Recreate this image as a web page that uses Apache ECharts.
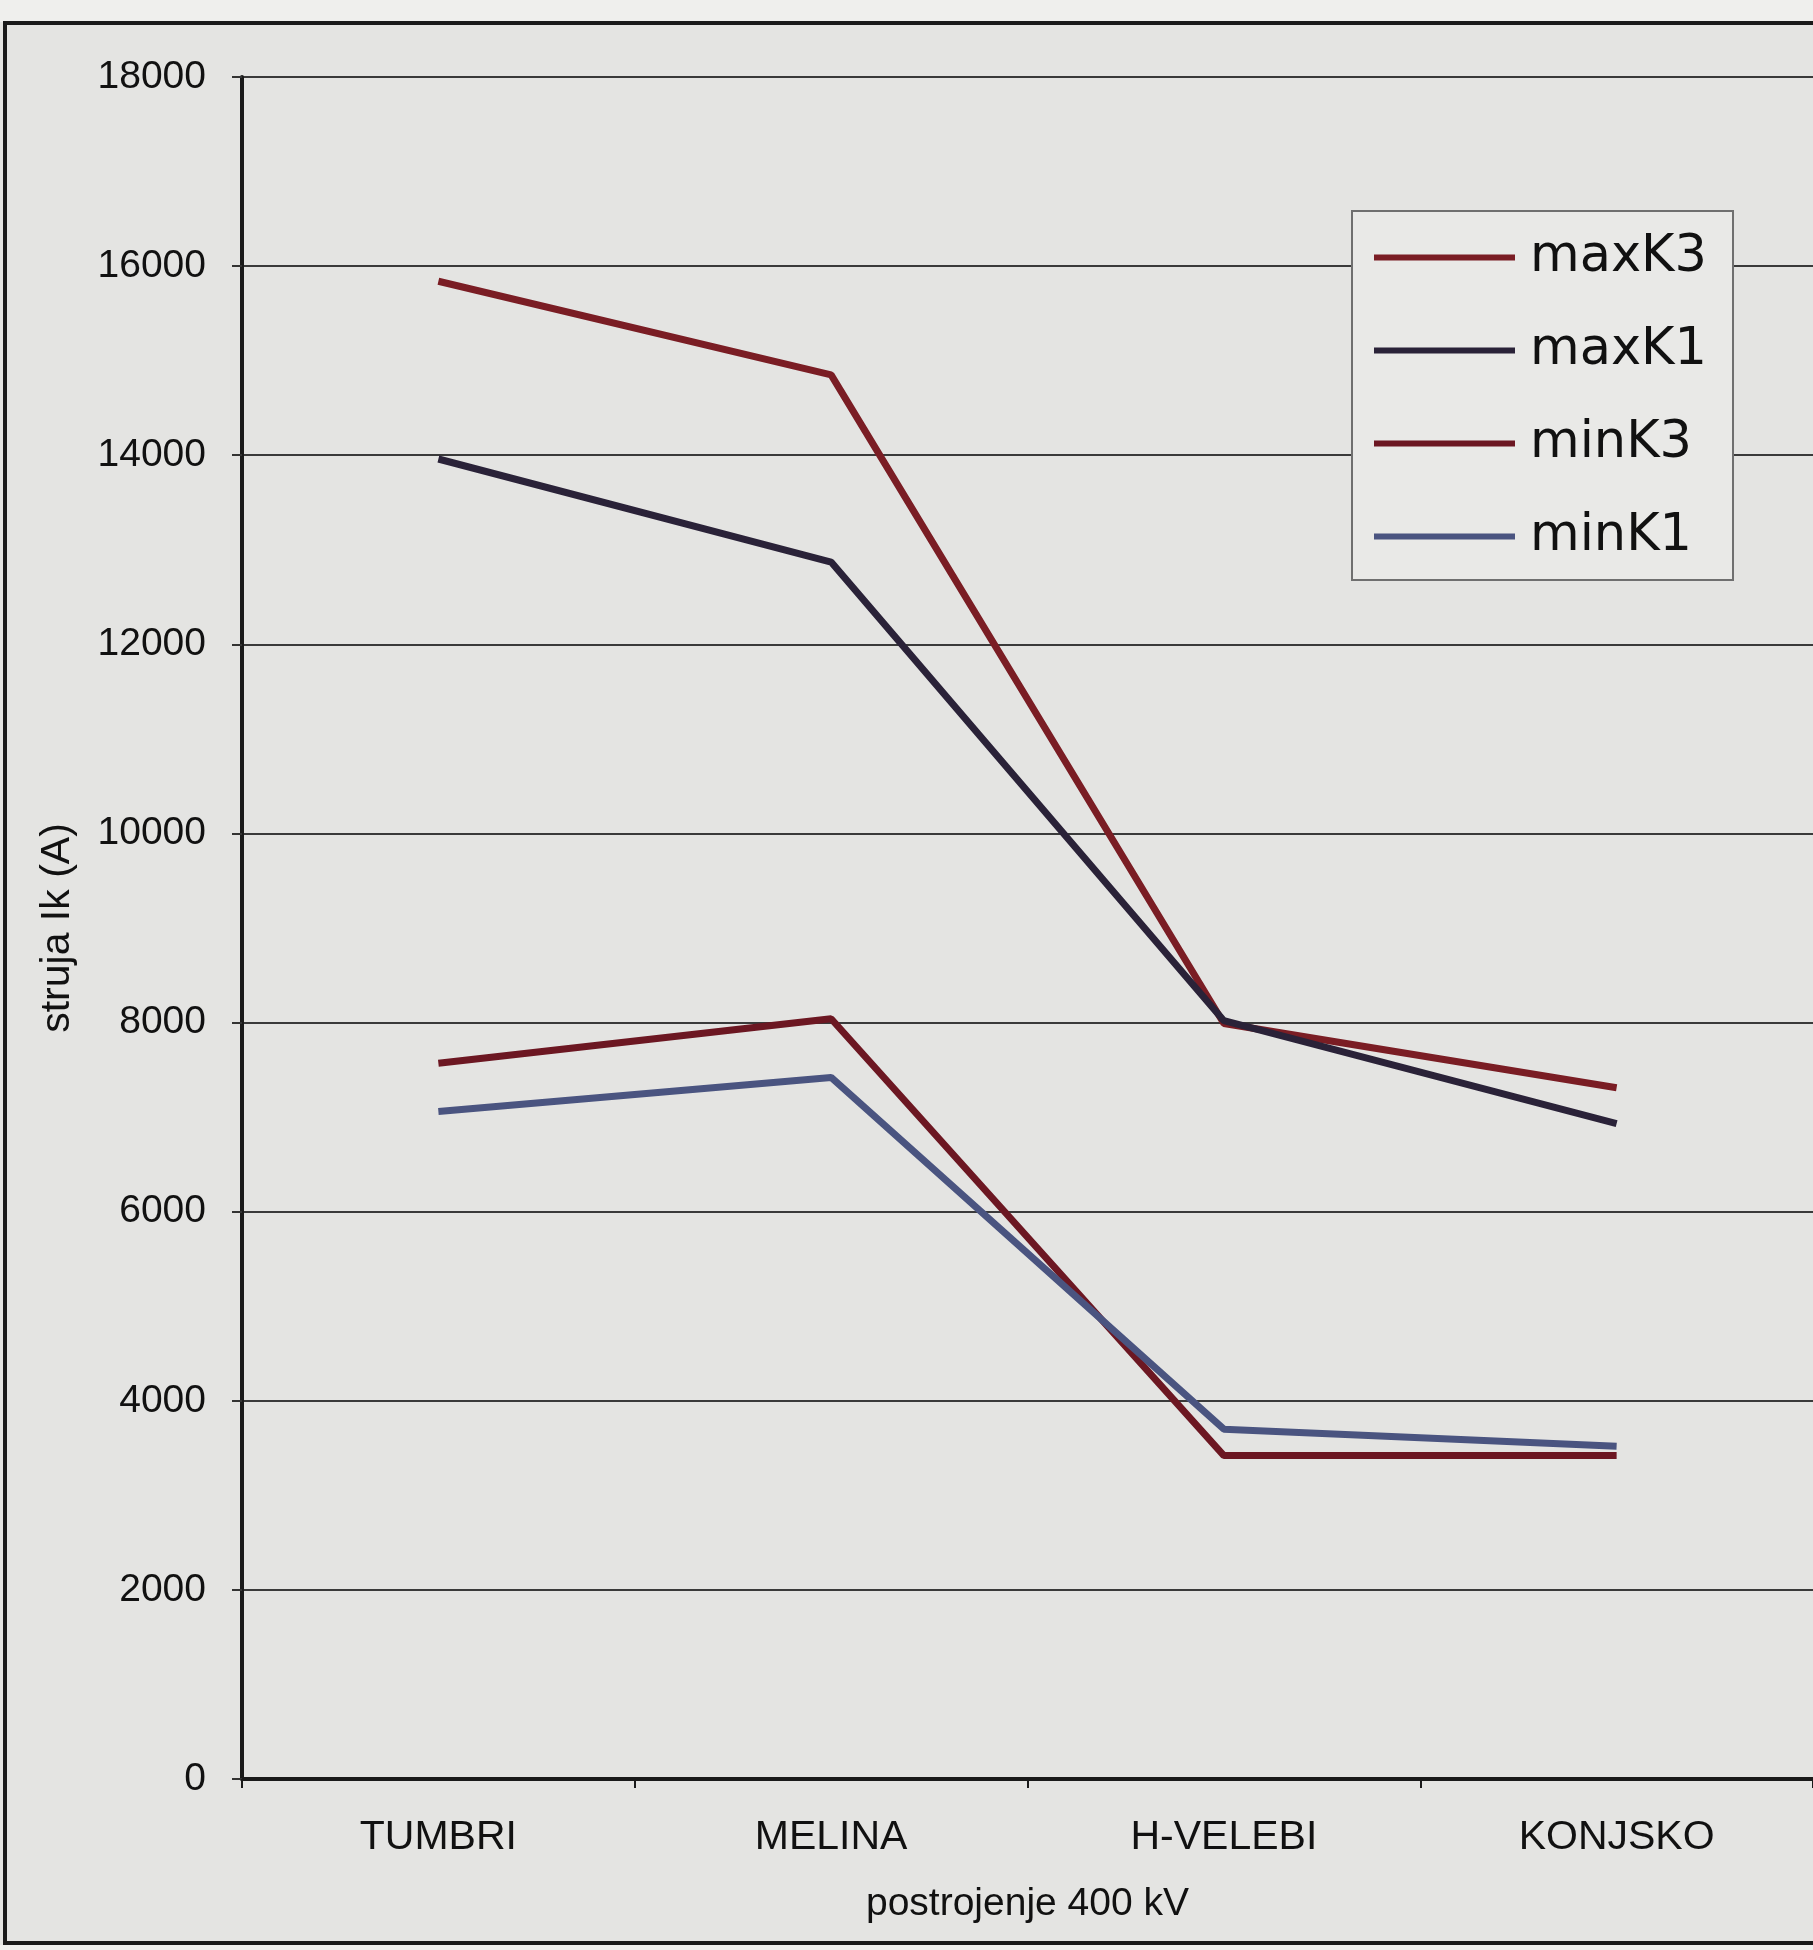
<!DOCTYPE html>
<html>
<head>
<meta charset="utf-8">
<title>Struja kratkog spoja – postrojenja 400 kV</title>
<script src="https://cdn.jsdelivr.net/npm/echarts@6/dist/echarts.min.js"></script>
<style>
  html, body { margin: 0; padding: 0; background: #efefed; }
  #chart { width: 1813px; height: 1950px; }
</style>
</head>
<body>
<div id="chart"></div>
<script>
// Short-circuit currents at the 400 kV substations
const categories = ['TUMBRI', 'MELINA', 'H-VELEBI', 'KONJSKO'];
const maxK3 = [15840, 14850, 7990, 7310];
const maxK1 = [13960, 12870, 8020, 6930];
const minK3 = [7570, 8040, 3420, 3420];
const minK1 = [7060, 7420, 3700, 3520];
const yTicks = [0, 2000, 4000, 6000, 8000, 10000, 12000, 14000, 16000, 18000];

const seriesDefs = [
  { name: 'maxK3', data: maxK3, color: '#7a1d24' },
  { name: 'maxK1', data: maxK1, color: '#2a2238' },
  { name: 'minK3', data: minK3, color: '#6c1722' },
  { name: 'minK1', data: minK1, color: '#4a5480' }
];

const chart = echarts.init(document.getElementById('chart'), null, { renderer: 'canvas' });

const font = 'Liberation Sans, Arial, sans-serif';

chart.setOption({
  backgroundColor: '#e4e4e2',
  animation: false,
  graphic: [
    // light margin strips and the outer frame of the figure
    {
      type: 'rect',
      shape: { x: 0, y: 0, width: 1813, height: 22 },
      style: { fill: '#efefed' },
      z: -10
    },
    {
      type: 'rect',
      shape: { x: 0, y: 1945, width: 1813, height: 5 },
      style: { fill: '#efefed' },
      z: -10
    },
    {
      type: 'rect',
      shape: { x: 5, y: 23, width: 1830, height: 1920 },
      style: { fill: 'none', stroke: '#1a1a1a', lineWidth: 4 },
      z: 10
    }
  ],
  grid: {
    left: 242,
    top: 77,
    width: 1574,
    height: 1702,
    containLabel: false
  },
  legend: {
    orient: 'vertical',
    left: 1352,
    top: 211,
    padding: [21, 26, 18, 22],
    backgroundColor: '#e9e9e7',
    borderColor: '#6f6f6f',
    borderWidth: 2,
    itemWidth: 141,
    itemHeight: 6,
    itemGap: 42,
    icon: 'rect',
    textStyle: {
      fontFamily: 'DejaVu Sans, sans-serif',
      fontSize: 51,
      lineHeight: 50,
      color: '#111',
      padding: [0, 0, 0, 10]
    },
    data: seriesDefs.map(s => s.name)
  },
  xAxis: {
    type: 'category',
    data: categories,
    boundaryGap: true,
    name: 'postrojenje 400 kV',
    nameLocation: 'middle',
    nameGap: 106,
    nameTextStyle: { fontFamily: font, fontSize: 39, color: '#111' },
    axisLine: { lineStyle: { color: '#1a1a1a', width: 4 } },
    axisTick: { show: true, length: 9, lineStyle: { color: '#1a1a1a', width: 2 } },
    axisLabel: { fontFamily: font, fontSize: 41, color: '#111', margin: 38 },
    splitLine: { show: false }
  },
  yAxis: {
    type: 'value',
    min: yTicks[0],
    max: yTicks[yTicks.length - 1],
    interval: yTicks[1] - yTicks[0],
    name: 'struja Ik (A)',
    nameLocation: 'middle',
    nameGap: 164,
    nameTextStyle: { fontFamily: font, fontSize: 41, color: '#111' },
    axisLine: { show: true, lineStyle: { color: '#1a1a1a', width: 4 } },
    axisTick: { show: true, inside: false, length: 10, lineStyle: { color: '#333', width: 2 } },
    axisLabel: {
      fontFamily: font, fontSize: 39, color: '#111', margin: 36,
      formatter: v => String(v)
    },
    splitLine: { show: true, lineStyle: { color: '#3a3a3a', width: 2 } }
  },
  series: seriesDefs.map(s => ({
    name: s.name,
    type: 'line',
    data: s.data,
    symbol: 'none',
    smooth: false,
    lineStyle: { color: s.color, width: 7 },
    itemStyle: { color: s.color },
    z: 5
  }))
});
</script>
</body>
</html>
